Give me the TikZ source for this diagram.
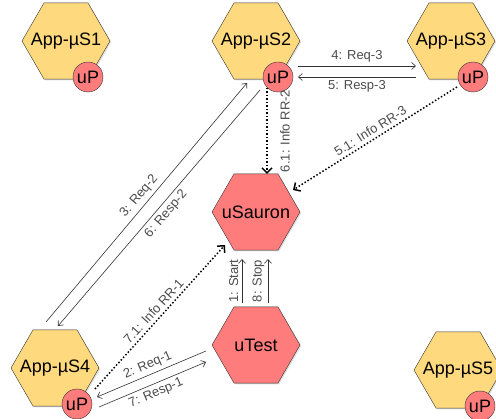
\documentclass[tikz,border=0pt]{standalone}
\usepackage{fontspec}
\setmainfont{Liberation Sans}
\usetikzlibrary{arrows.meta,shapes.geometric,shadows,positioning}

\definecolor{appyellow}{HTML}{FFD97D}
\definecolor{corered}{HTML}{FF7C7C}

\begin{document}
\begin{tikzpicture}[
    x=1pt, y=-1pt,
    >={Straight Barb[length=4pt,width=7pt]},   % thin open arrow tips
    node distance=190pt,
    hexa/.style={regular polygon, regular polygon sides=6, minimum size=88pt,
        inner sep=0pt, draw=black!80, font=\fontsize{18}{20}\selectfont,
        drop shadow={opacity=0.25, shadow xshift=1.2pt, shadow yshift=-1.2pt}},
    app/.style={hexa, fill=appyellow},
    core/.style={hexa, fill=corered},
    proxy/.style={circle, draw=black!80, fill=corered, minimum size=30pt,
        inner sep=0pt, font=\fontsize{18}{20}\selectfont},
    msg/.style={->, draw=black!80, line width=0.6pt},
    info/.style={-{Straight Barb[length=5pt,width=10pt]}, dotted, line width=1.5pt},
    lbl/.style={font=\fontsize{13}{15}\selectfont, text=black!70}]
    \useasboundingbox (0,0) rectangle (496,419);

    % Services (text kept out of the hexagon size)
    \node[app] (s1) at (66,41) {\makebox[0pt]{App-µS1}};
    \node[app] (s2) [right of=s1] {\makebox[0pt]{App-µS2}};
    \node[app] (s3) [right of=s2, node distance=195pt] {\makebox[0pt]{App-µS3}};
    \node[core] (sauron) [below of=s2, node distance=171pt] {\makebox[0pt]{uSauron}};
    \node[core] (utest) [below of=sauron, node distance=133pt] {\makebox[0pt]{uTest}};
    \node[app] (s4) at (55,368) {\makebox[0pt]{App-µS4}};
    \node[app] (s5) at (458,370) {\makebox[0pt]{App-µS5}};

    % Proxies
    \node[proxy] (up1) at ([shift={(22,36)}]s1.center) {uP};
    \node[proxy] (up2) at ([shift={(22,36)}]s2.center) {uP};
    \node[proxy] (up3) at ([shift={(22,36)}]s3.center) {uP};
    \node[proxy] (up4) at ([shift={(22,36)}]s4.center) {uP};
    \node[proxy] (up5) at ([shift={(22,36)}]s5.center) {uP};

    % Requests and responses
    \draw[msg] ([shift={(20,-11)}]up2.center) -- node[lbl, midway, above] {4: Req-3} ([shift={(-35,25)}]s3.center);
    \draw[msg] ([shift={(-35,36)}]s3.center) -- node[lbl, midway, below] {5: Resp-3} ([shift={(20,0)}]up2.center);
    \draw[msg] ([shift={(-9,-46)}]s4.center) -- node[lbl, midway, sloped, above] {3: Req-2} ([shift={(-9,42)}]s2.center);
    \draw[msg] ([shift={(4,49)}]s2.center) -- node[lbl, midway, sloped, below] {6: Resp-2} ([shift={(3,-42)}]s4.center);
    \draw[msg] ([shift={(-50,6)}]utest.center) -- node[lbl, midway, sloped, above] {2: Req-1} ([shift={(20,-7)}]up4.center);
    \draw[msg] ([shift={(22,3)}]up4.center) -- node[lbl, midway, sloped, below] {7: Resp-1} ([shift={(-50,17)}]utest.center);
    \draw[msg] ([shift={(-14,-42)}]utest.center) -- node[lbl, midway, sloped, above] {1: Start} ([shift={(-14,47)}]sauron.center);
    \draw[msg] ([shift={(12,-42)}]utest.center) -- node[lbl, midway, sloped, above] {8: Stop} ([shift={(12,47)}]sauron.center);

    % Reports to uSauron
    \draw[info] ([shift={(-11,11)}]up2.center) -- node[lbl, midway, xshift=18pt, rotate=90] {6.1: Info RR-2} ([shift={(11,-38)}]sauron.center);
    \draw[info] ([shift={(-16,10)}]up3.center) -- node[lbl, midway, sloped, above] {5.1: Info RR-3} ([shift={(37,-22)}]sauron.center);
    \draw[info] ([shift={(18,-15)}]up4.center) -- node[lbl, midway, sloped, above] {7.1: Info RR-1} ([shift={(-31,33)}]sauron.center);
\end{tikzpicture}
\end{document}
